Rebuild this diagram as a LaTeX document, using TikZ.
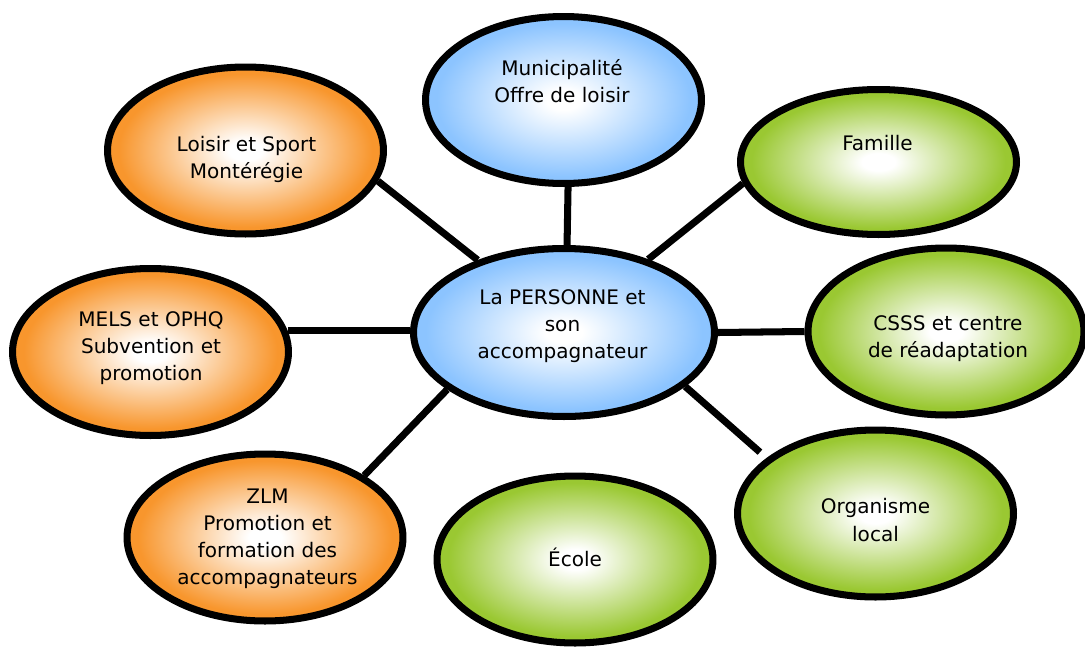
\documentclass[tikz,border=0pt]{standalone}
\usepackage{fontspec}
\setmainfont{DejaVu Sans}
\usetikzlibrary{shapes.geometric}

\definecolor{bleuciel}{RGB}{140,196,255}
\definecolor{orangevif}{RGB}{248,150,45}
\definecolor{vertlime}{RGB}{154,200,50}
\colorlet{bullecol}{white}
\pgfdeclareradialshading[bullecol]{bulle}{\pgfpoint{0bp}{0bp}}{%
  color(0bp)=(white); color(3bp)=(white); color(23bp)=(bullecol); color(50bp)=(bullecol)}

\begin{document}
\begin{tikzpicture}[x=0.02cm, y=-0.02cm,
    bulle/.style={ellipse, draw=black, line width=4pt, inner sep=0pt,
      minimum width=5.52cm, minimum height=3.34cm,
      /utils/exec={\colorlet{bullecol}{#1}}, shade, shading=bulle},
    texte/.style={align=center, font=\fontsize{11.4}{15.4}\selectfont},
    lien/.style={line width=4pt}]
  \useasboundingbox (0,0) rectangle (1085,646);

  % les bulles
  \node[bulle=bleuciel, minimum width=6.02cm, minimum height=3.36cm] (personne) at (564,332.5) {};
  \node[bulle=bleuciel] (muni) at (563.5,100) {};
  \node[bulle=orangevif] (loisir) at (245.5,150.5) {};
  \node[bulle=orangevif] (mels) at (150.5,352) {};
  \node[bulle=orangevif] (zlm) at (265,537.5) {};
  \node[bulle=vertlime, minimum height=2.9cm] (famille) at (878.5,162) {};
  \node[bulle=vertlime] (csss) at (946,331.5) {};
  \node[bulle=vertlime] (organisme) at (875.5,513.5) {};
  \node[bulle=vertlime] (ecole) at (575,559.5) {};

  % les textes
  \node[texte] (personne-t) at (562.5,326) {La PERSONNE et\\son\\accompagnateur};
  \node[texte] (muni-t) at (562,81) {Municipalité\\Offre de loisir};
  \node[texte] (loisir-t) at (246.5,159) {Loisir et Sport\\Montérégie};
  \node[texte] (mels-t) at (151,348) {MELS et OPHQ\\Subvention et\\promotion};
  \node[texte] (zlm-t) at (267.5,539) {ZLM\\Promotion et\\formation des\\accompagnateurs};
  \node[texte] (famille-t) at (877.5,143) {Famille};
  \node[texte] (csss-t) at (948,338.5) {CSSS et centre\\de réadaptation};
  \node[texte] (organisme-t) at (875.5,520) {Organisme\\local};
  \node[texte] (ecole-t) at (575,557) {École};

  % les liens
  \draw[lien] (muni.-87) -- (personne.88);
  \draw[lien] (loisir.-13) -- (personne.140.7);
  \draw[lien] (famille.189) -- (personne.41);
  \draw[lien] (mels.9) -- (mels.9 -| personne.west);
  \draw[lien] (personne.east) -- (csss.west);
  \draw[lien] (zlm.32.5) -- (personne.206.4);
  \draw[lien, shorten >=5pt] (personne.-24.5) -- (organisme.153);
\end{tikzpicture}
\end{document}
